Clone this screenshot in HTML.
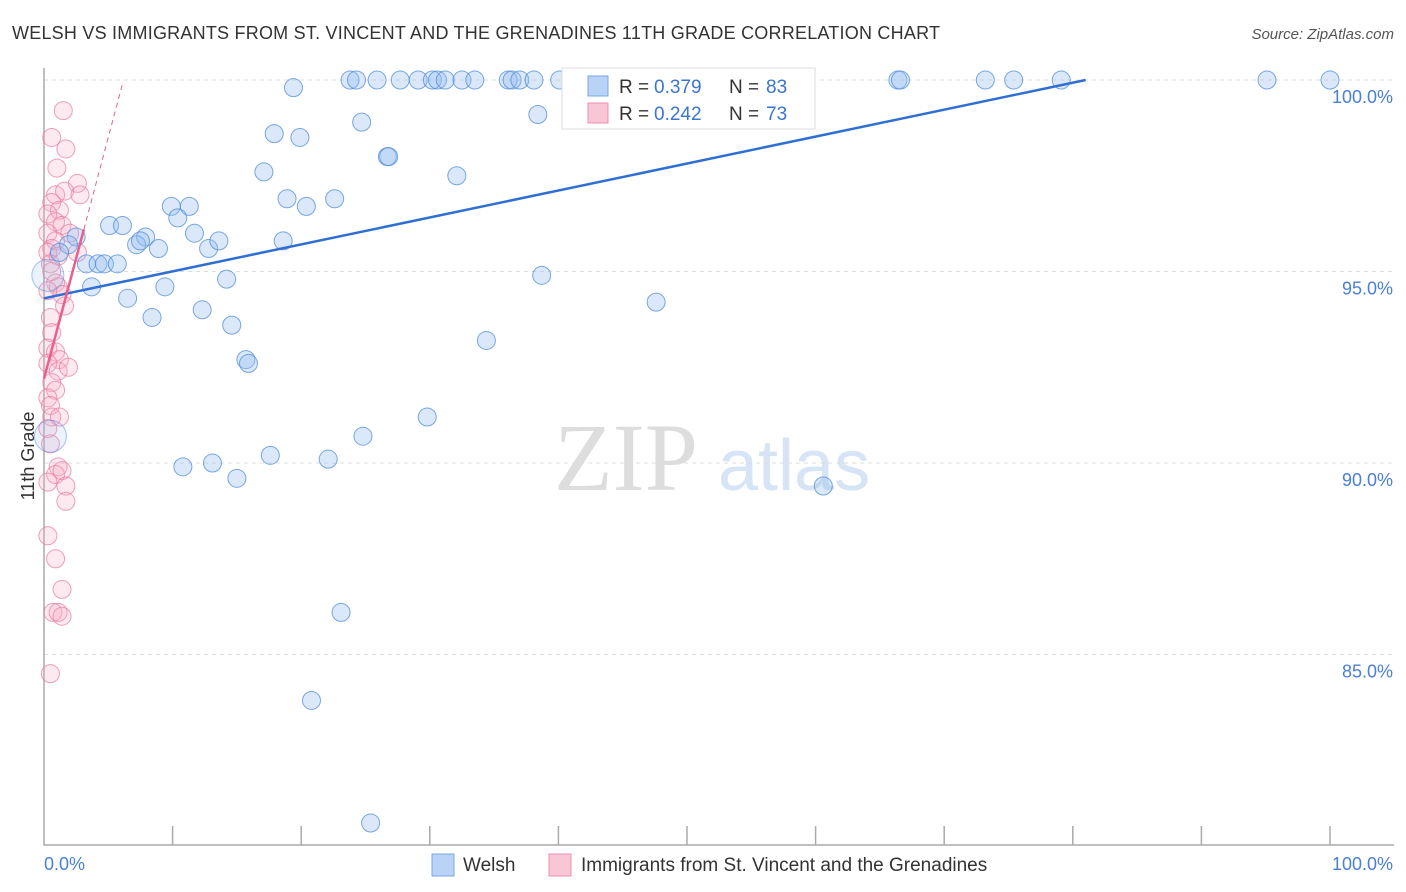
<!DOCTYPE html>
<html><head><meta charset="utf-8"><style>
body{margin:0;background:#fff;font-family:"Liberation Sans",sans-serif}
#w{position:relative;width:1406px;height:892px;overflow:hidden}
</style></head><body>
<div id="w">
<svg id="s" width="1406" height="892" xmlns="http://www.w3.org/2000/svg">
<text x="12" y="39" font-size="18" fill="#333" textLength="928">WELSH VS IMMIGRANTS FROM ST. VINCENT AND THE GRENADINES 11TH GRADE CORRELATION CHART</text>
<text x="1394" y="39" font-size="15" fill="#555" font-style="italic" text-anchor="end">Source: ZipAtlas.com</text>
<text x="554" y="490" font-size="96" fill="#ddd" font-family="Liberation Serif,serif">ZIP</text>
<text x="718" y="490" font-size="72" fill="#d6e4f5">atlas</text>
<g id="grid"></g><g id="pts"></g><g id="trend"></g>
<text transform="translate(34,456) rotate(-90)" font-size="18" fill="#333" text-anchor="middle">11th Grade</text>
<text x="44" y="870" font-size="18" fill="#4a7fd6">0.0%</text>
<text x="1393" y="870" font-size="18" fill="#4a7fd6" text-anchor="end">100.0%</text>
<g>
<rect x="562" y="68" width="253" height="61" fill="#fff" stroke="#ddd"/>
<rect x="588" y="76" width="20" height="20" fill="#b8d3f5" stroke="#7aa8e6"/>
<rect x="588" y="103" width="20" height="20" fill="#f9c6d6" stroke="#ec8fae"/>
<text x="619" y="93" font-size="19" fill="#333">R = </text><text x="654" y="93" font-size="19" fill="#3a75d0">0.379</text>
<text x="729" y="93" font-size="19" fill="#333">N = </text><text x="766" y="93" font-size="19" fill="#3a75d0">83</text>
<text x="619" y="120" font-size="19" fill="#333">R = </text><text x="654" y="120" font-size="19" fill="#3a75d0">0.242</text>
<text x="729" y="120" font-size="19" fill="#333">N = </text><text x="766" y="120" font-size="19" fill="#3a75d0">73</text>
</g>
<g>
<rect x="432" y="854" width="22" height="22" fill="#b8d3f5" stroke="#7aa8e6"/>
<text x="463" y="871" font-size="19" fill="#333">Welsh</text>
<rect x="549" y="854" width="22" height="22" fill="#f9c6d6" stroke="#ec8fae"/>
<text x="581" y="871" font-size="19" fill="#333">Immigrants from St. Vincent and the Grenadines</text>
</g>
</svg>
</div>
<script>
const yTicks=[100,95,90,85];
const yTickLabels=["100.0%","95.0%","90.0%","85.0%"];
const welshX=[23.8,24.3,25.9,27.7,29.1,30.2,30.6,31.2,32.5,33.5,36.1,36.4,37.0,38.1,40.1,41.1,45.6,54.1,66.4,66.6,73.2,75.4,79.1,95.1,100.0];
const welshY=[100,100,100,100,100,100,100,100,100,100,100,100,100,100,100,100,100,100,100,100,100,100,100,100,100];
const welshX2=[19.4,38.4,17.9,19.9,24.7,26.7,26.8,32.1,17.1,18.9,20.4,22.6,9.9,11.3,10.4,5.1,6.1,11.7,7.9,7.2,7.5,8.9,12.8,13.6,18.6,2.5,1.9,1.2,3.3,4.2,4.7,5.7,14.2,3.7,9.4,6.5,12.3,8.4,14.6,38.7,47.6,34.4,15.7,15.9,29.8,24.8,10.8,13.1,15.0,17.6,22.1,60.6,23.1,20.8,25.4,0.3,0.5];
const welshY2=[99.8,99.1,98.6,98.5,98.9,98.0,98.0,97.5,97.6,96.9,96.7,96.9,96.7,96.7,96.4,96.2,96.2,96.0,95.9,95.7,95.8,95.6,95.6,95.8,95.8,95.9,95.7,95.5,95.2,95.2,95.2,95.2,94.8,94.6,94.6,94.3,94.0,93.8,93.6,94.9,94.2,93.2,92.7,92.6,91.2,90.7,89.9,90.0,89.6,90.2,90.1,89.4,86.1,83.8,80.6,94.9,90.7];
const pinkX=[1.5,0.6,1.7,1.0,0.9,2.6,1.6,2.8,0.6,1.2,0.3,0.9,1.4,0.3,0.9,0.6,2.0,0.3,1.1,0.5,2.6,0.6,0.9,1.1,1.4,0.3,1.6,0.5,0.6,0.3,0.9,1.2,0.3,1.1,1.9,0.6,0.9,0.3,0.5,0.6,1.2,0.3,0.5,1.1,0.9,1.4,0.3,1.7,1.7,0.3,0.9,1.4,0.7,1.1,1.4,0.5];
const pinkY=[99.2,98.5,98.2,97.7,97.0,97.3,97.1,97.0,96.8,96.6,96.5,96.3,96.2,96.0,95.8,95.6,96.0,95.5,95.4,95.2,95.5,95.0,94.7,94.6,94.4,94.5,94.1,93.8,93.4,93.0,92.9,92.7,92.6,92.4,92.5,92.1,91.9,91.7,91.5,91.2,91.2,90.9,90.5,89.9,89.7,89.8,89.5,89.4,89.0,88.1,87.5,86.7,86.1,86.1,86.0,84.5];
const welshTrend=[[0,94.3],[81,100]];
const pinkTrend=[[0,92.2],[3.1,96.1]];
const pinkDash=[[3.1,96.1],[6.1,99.9]];
const X=v=>44+v/100*1286, Y=v=>80+(100-v)*38.3;
const NS="http://www.w3.org/2000/svg";
function mk(t,a,p){const e=document.createElementNS(NS,t);for(const k in a)e.setAttribute(k,a[k]);p.appendChild(e);return e;}
const g=document.getElementById('grid');
yTicks.forEach((t,i)=>{
 const l=mk('line',{x1:44,x2:1394,y1:Y(t),y2:Y(t),stroke:'#ddd','stroke-dasharray':'4,4'},g);
 
 
 const tx=mk('text',{x:1393,y:Y(t)+23,'font-size':18,fill:'#4a7fd6','text-anchor':'end'},g);
 tx.textContent=yTickLabels[i];
 
 
});
const ax=mk('path',{d:'M44 68 V845 H1394',stroke:'#aaa',fill:'none','stroke-width':1.5},g);


for(let i=1;i<=10;i++){const t=mk('line',{x1:44+i*128.6,x2:44+i*128.6,y1:826,y2:845,stroke:'#aaa','stroke-width':1.5},g);
 
 }
const P=document.getElementById('pts');
function dot(x,y,c,name,r){const e=mk('circle',{cx:X(x),cy:Y(y),r:r||9,fill:c[0],stroke:c[1],'stroke-width':1},P);
 
 }
const pc=['rgba(247,170,195,0.25)','rgba(232,120,160,0.7)'], bc=['rgba(150,190,240,0.35)','rgba(80,140,215,0.75)'];
pinkX.forEach((x,i)=>dot(x,pinkY[i],pc,'immigrant-point'));
welshX.forEach((x,i)=>dot(x,welshY[i],bc,'welsh-point'));
welshX2.forEach((x,i)=>dot(x,welshY2[i],i>=55?['rgba(150,190,240,0.2)','rgba(80,140,215,0.5)']:bc,'welsh-point',i>=55?16:9));
const T=document.getElementById('trend');
function ln(a,c,w,d,name){const e=mk('line',{x1:X(a[0][0]),y1:Y(a[0][1]),x2:X(a[1][0]),y2:Y(a[1][1]),stroke:c,'stroke-width':w},T);if(d)e.setAttribute('stroke-dasharray',d);
 
 }
ln(welshTrend,'#2f6fd4',2.5,null,'welsh-trendline');
ln(pinkTrend,'#e8608c',2.5,null,'immigrant-trendline');
ln(pinkDash,'#e8608c',1,'5,4','immigrant-trendline-extension');
</script>
</body></html>
